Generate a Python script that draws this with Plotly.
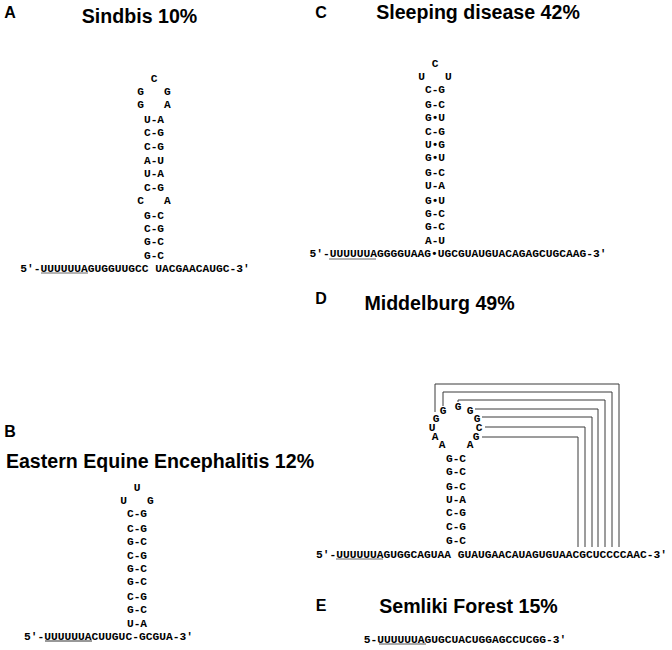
import plotly.graph_objects as go

NB = "\u00a0"
MONO = "Liberation Mono"
SANS = "Liberation Sans"

# Panel letters and titles
panel_letters = ["A", "B", "C", "D", "E"]
letter_x = [10, 10, 321, 321, 321]
letter_y = [14, 433, 14, 300, 607]

titles = ["Sindbis 10%", "Eastern Equine Encephalitis 12%", "Sleeping disease 42%",
          "Middelburg 49%", "Semliki Forest 15%"]
title_x = [139.5, 160, 478, 439.5, 468.5]
title_y = [18, 463, 14, 305, 608]

# Stems: text rows with their centre column and row heights
stem_a = ["C", "G   G", "G   A", "U-A", "C-G", "C-G", "A-U", "U-A", "C-G", "C   A",
          "G-C", "C-G", "G-C", "G-C"]
stem_a_y = [79, 92, 105, 120, 133, 147, 161, 174, 188, 201, 216, 229, 242, 256]
stem_b = ["U", "U   G", "C-G", "C-G", "G-C", "C-G", "G-C", "G-C", "C-G", "G-C", "U-A"]
stem_b_y = [488, 501, 514, 529, 542, 556, 569, 582, 597, 610, 624]
stem_c = ["C", "U   U", "C-G", "G-C", "G•U", "C-G", "U•G", "G•U", "G-C", "U-A", "G•U",
          "G-C", "G-C", "A-U"]
stem_c_y = [64, 77, 90, 105, 118, 132, 145, 158, 173, 186, 201, 214, 227, 241]
stem_d = ["G-C", "G-C", "G-C", "U-A", "C-G", "C-G", "G-C"]
stem_d_y = [459, 472, 487, 500, 513, 527, 541]
stem_centres = [154, 137, 435, 456]

# Middelburg loop nucleotides
loop_d = ["G", "G", "G", "G", "G", "C", "G", "A", "A", "A", "U"]
loop_d_x = [436, 443, 458, 470, 477, 479, 476, 470, 442, 435, 432]
loop_d_y = [419, 411, 407, 411, 419, 428, 437, 445, 445, 437, 428]

# Full sequences, with their text centre
sequences = ["5′-UUUUUUAGUGGUUGCC UACGAACAUGC-3′",
             "5′-UUUUUUACUUGUC-GCGUA-3′",
             "5′-UUUUUUAGGGGUAAG•UGCGUAUGUACAGAGCUGCAAG-3′",
             "5′-UUUUUUAGUGGCAGUAA GUAUGAACAUAGUGUAACGCUCCCCAAC-3′",
             "5-UUUUUUAGUGCUACUGGAGCCUCGG-3′"]
seq_x = [135, 108.5, 458, 491.5, 465]
seq_y = [269, 637, 254, 555, 640]

# Underlines below the U-tract
under_x0 = [41, 45, 329, 336, 379]
under_x1 = [88, 92, 376, 383, 426]
under_y = [273, 641, 259, 559, 644]
under_col = ["#666666", "#333333", "#666666", "#666666", "#555555"]

# Pseudoknot connecting lines in D: start x, start y, top y, end x
pk_x0 = [435, 443, 458, 475, 482, 485, 482]
pk_y0 = [412, 406, 402, 409, 417, 427, 437]
pk_top = [384, 392, 400, 409, 417, 427, 437]
pk_x1 = [619, 612, 605, 598, 592, 585, 578]
pk_y1 = [547, 547, 547, 547, 547, 547, 547]

fig = go.Figure()

def add_text(x, y, text, font_family, size, weight="bold", color="#000000"):
    fig.add_trace(go.Scatter(
        x=x, y=y, text=[t.replace(" ", NB) for t in text], mode="text",
        textposition="middle center", hoverinfo="skip", showlegend=False,
        textfont=dict(family=font_family, size=size, color=color, weight=weight)))

# connecting lines
lx, ly = [], []
for a, b, t, c, d in zip(pk_x0, pk_y0, pk_top, pk_x1, pk_y1):
    lx += [a, a, c, c, None]
    ly += [b, t, t, d, None]
fig.add_trace(go.Scatter(x=lx, y=ly, mode="lines", hoverinfo="skip", showlegend=False,
                         line=dict(color="#3a3a3a", width=1)))

# underlines
for a, b, y, c in zip(under_x0, under_x1, under_y, under_col):
    fig.add_trace(go.Scatter(x=[a, b], y=[y, y], mode="lines", hoverinfo="skip",
                             showlegend=False, line=dict(color=c, width=1.2)))

add_text(letter_x, letter_y, panel_letters, SANS, 16)
add_text(title_x, title_y, titles, SANS, 19.6)
for rows, ys, cx in zip([stem_a, stem_b, stem_c, stem_d],
                        [stem_a_y, stem_b_y, stem_c_y, stem_d_y], stem_centres):
    add_text([cx] * len(rows), ys, rows, MONO, 11.2)
add_text(loop_d_x, loop_d_y, loop_d, MONO, 11.2)
add_text(seq_x, seq_y, sequences, MONO, 11.25)

fig.update_layout(
    width=672, height=650, autosize=False,
    margin=dict(l=0, r=0, t=0, b=0),
    paper_bgcolor="white", plot_bgcolor="white",
    xaxis=dict(range=[0, 672], visible=False, fixedrange=True),
    yaxis=dict(range=[650, 0], visible=False, fixedrange=True),
)
fig.write_html("out.html", config={"displayModeBar": False},
               post_script="document.body.style.margin='0';document.documentElement.style.overflow='hidden';")
